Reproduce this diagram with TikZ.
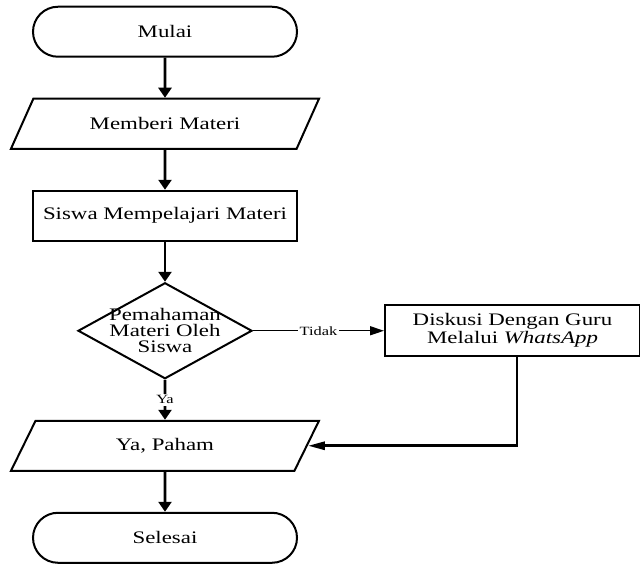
\documentclass[tikz,border=0pt]{standalone}
\usepackage{fontspec}
\setmainfont{Liberation Serif}[FakeStretch=1.3]
\usetikzlibrary{arrows.meta, positioning, shapes.geometric}

\begin{document}
\begin{tikzpicture}[
    x=0.5pt, y=-0.5pt,
    node distance=20pt,
    font=\fontsize{8.8}{8}\selectfont,
    terminal/.style={draw, line width=1pt, rounded corners=12.5pt, minimum width=132pt, minimum height=25pt},
    io/.style={draw, line width=1pt, trapezium, trapezium left angle=49, trapezium right angle=131, trapezium stretches body, minimum width=154pt, minimum height=25pt},
    process/.style={draw, line width=1pt, minimum width=132pt, minimum height=25pt, align=center},
    decision/.style={draw, line width=1pt, diamond, inner xsep=-20pt, inner ysep=-5pt, minimum width=87pt, minimum height=48pt, align=center},
    flow/.style={-{Triangle[length=5pt, width=6.5pt]}, line width=1.4pt},
    tidak/.style={-{Triangle[length=7pt, width=4.5pt]}, line width=0.7pt},
    back/.style={-{Triangle[length=8.5pt, width=4pt]}, line width=1.4pt},
    cond/.style={font=\fontsize{6.3}{7}\selectfont, fill=white, inner sep=1pt},
]
\useasboundingbox (0,0) rectangle (640,565);

% Nodes
\node[terminal] (mulai) at (165,31.75) {Mulai};
\node[io, below=of mulai] (memberi) {Memberi Materi};
\node[process, below=of memberi] (belajar) {Siswa Mempelajari Materi};
\node[decision, below=of belajar] (paham) {Pemahaman\\Materi Oleh\\Siswa};
\node[io, below=of paham] (yapaham) {Ya, Paham};
\node[terminal, below=of yapaham] (selesai) {Selesai};
\node[process, minimum width=127.5pt, minimum height=25.5pt, right=65.5pt of paham] (diskusi) {Diskusi Dengan Guru\\Melalui \textit{WhatsApp}};

% Arrows
\draw[flow] (mulai) -- (memberi);
\draw[flow] (memberi) -- (belajar);
\draw[flow] (belajar) -- (paham);
\draw[flow] (paham) -- node[cond] {Ya} (yapaham);
\draw[flow] (yapaham) -- (selesai);
\draw[tidak] (paham) -- node[cond] {Tidak} (diskusi);
\draw[back] ([xshift=2.25pt]diskusi.south) |- (yapaham.east);

\end{tikzpicture}
\end{document}
